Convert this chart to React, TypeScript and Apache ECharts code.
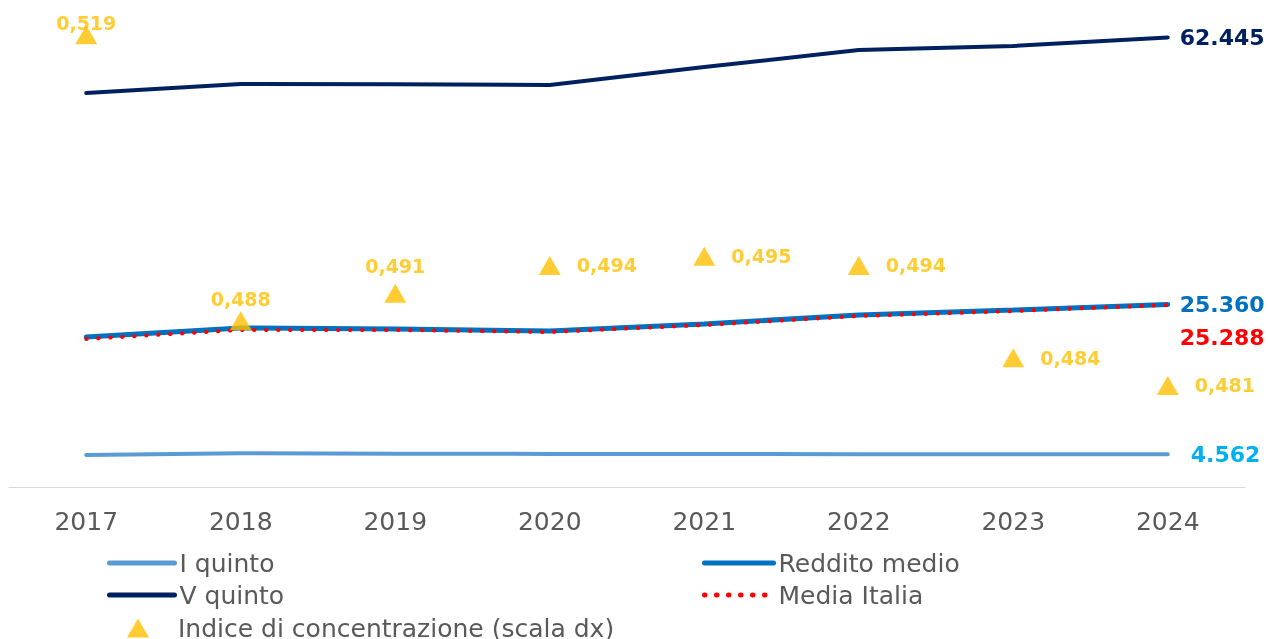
import React, { useEffect, useRef } from "react";
import * as echarts from "echarts";

const years = ["2017", "2018", "2019", "2020", "2021", "2022", "2023", "2024"];
const primoQuinto = [4450, 4700, 4620, 4600, 4580, 4560, 4560, 4562];
const quintoQuinto = [54720, 55970, 55950, 55830, 58330, 60690, 61250, 62445];
const redditoMedio = [20830, 22080, 21940, 21670, 22640, 23890, 24580, 25360];
const mediaItalia = [20560, 21810, 21810, 21530, 22500, 23750, 24440, 25288];
const indice = [0.519, 0.488, 0.491, 0.494, 0.495, 0.494, 0.484, 0.481];

const fmtThousands = (v: number) =>
  String(Math.round(v)).replace(/\B(?=(\d{3})+(?!\d))/g, ".");
const fmtIndex = (v: number) => v.toFixed(3).replace(".", ",");

export default function App() {
  const ref = useRef<HTMLDivElement>(null);
  useEffect(() => {
    if (!ref.current) return;
    const chart = echarts.init(ref.current, undefined, { renderer: "svg" });
    const textFont = "'DejaVu Sans', sans-serif";
    const numFont = "'DejaVu Sans', Verdana, sans-serif";
    const labelTop = [-7, 3, 8];
    const idxData = indice.map((v, i) => ({
      value: v,
      label:
        i < 3
          ? { position: "top", distance: labelTop[i] }
          : { position: "right", distance: 16 },
    }));
    const endLabel = (color: string, offset: number[]) => ({
      show: true,
      formatter: (p: any) => fmtThousands(p.value),
      color,
      fontFamily: numFont,
      fontWeight: "bold",
      fontSize: 22,
      distance: 0,
      offset,
    });
    const legendText = {
      color: "#595959",
      fontFamily: textFont,
      fontSize: 25,
      lineHeight: 26,
    };
    chart.setOption({
      animation: false,
      grid: { left: 9, right: 23, top: 19, bottom: 152, containLabel: false },
      xAxis: {
        type: "category",
        data: years,
        boundaryGap: true,
        axisLine: { show: true, lineStyle: { color: "#D9D9D9", width: 1 } },
        axisTick: { show: false },
        axisLabel: {
          color: "#595959",
          fontFamily: textFont,
          fontSize: 25,
          margin: 22,
        },
      },
      yAxis: [
        { type: "value", min: 0, max: 65000, show: false, splitLine: { show: false } },
        { type: "value", min: 0.47, max: 0.5207, show: false, splitLine: { show: false } },
      ],
      legend: [
        {
          data: ["I quinto", "V quinto"],
          orient: "vertical",
          left: 107,
          top: 550,
          padding: 0,
          itemWidth: 65,
          itemHeight: 14,
          itemGap: 6,
          itemStyle: { opacity: 0 },
          lineStyle: { width: 5 },
          textStyle: legendText,
        },
        {
          data: ["Reddito medio", "Media Italia"],
          orient: "vertical",
          left: 702,
          top: 550,
          padding: 0,
          itemWidth: 69,
          itemHeight: 14,
          itemGap: 6,
          itemStyle: { opacity: 0 },
          lineStyle: { width: 5 },
          textStyle: legendText,
        },
        {
          data: ["Indice di concentrazione (scala dx)"],
          orient: "vertical",
          left: 127,
          top: 615,
          padding: 0,
          itemWidth: 22,
          itemHeight: 19,
          textStyle: { ...legendText, padding: [0, 0, 0, 24] },
        },
      ],
      series: [
        {
          name: "I quinto",
          type: "line",
          data: primoQuinto,
          symbol: "none",
          lineStyle: { color: "#5B9BD5", width: 4, cap: "round" },
          itemStyle: { color: "#5B9BD5" },
          endLabel: endLabel("#00B0F0", [23, 0]),
        },
        {
          name: "V quinto",
          type: "line",
          data: quintoQuinto,
          symbol: "none",
          lineStyle: { color: "#002060", width: 4, cap: "round" },
          itemStyle: { color: "#002060" },
          endLabel: endLabel("#002060", [12, 0]),
        },
        {
          name: "Reddito medio",
          type: "line",
          data: redditoMedio,
          symbol: "none",
          lineStyle: { color: "#0070C0", width: 5, cap: "round" },
          itemStyle: { color: "#0070C0" },
          endLabel: endLabel("#0070C0", [12, 0]),
        },
        {
          name: "Media Italia",
          type: "line",
          data: mediaItalia,
          symbol: "none",
          lineStyle: { color: "#FF0000", width: 4, type: [0.5, 11.5], cap: "round" },
          itemStyle: { color: "#FF0000" },
          endLabel: endLabel("#FF0000", [12, 33]),
        },
        {
          name: "Indice di concentrazione (scala dx)",
          type: "scatter",
          yAxisIndex: 1,
          data: idxData,
          symbol: "triangle",
          symbolSize: [22, 19],
          itemStyle: { color: "#FFC000" },
          label: {
            show: true,
            formatter: (p: any) => fmtIndex(p.value),
            color: "#FFC000",
            fontFamily: numFont,
            fontWeight: "bold",
            fontSize: 19,
          },
          z: 5,
        },
      ],
    });
    return () => chart.dispose();
  }, []);
  return (
    <div
      ref={ref}
      style={{ position: "fixed", left: 0, top: 0, width: 1268, height: 639 }}
    />
  );
}
